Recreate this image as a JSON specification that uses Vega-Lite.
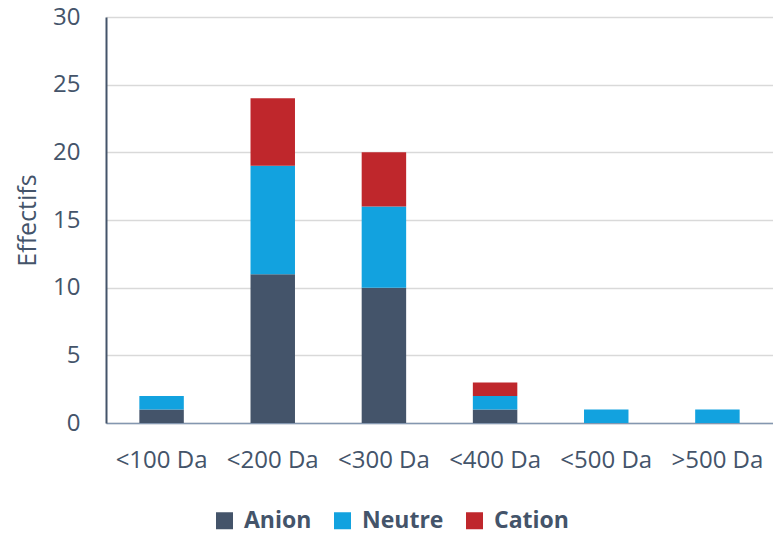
{
  "$schema": "https://vega.github.io/schema/vega-lite/v6.json",
  "width": 667,
  "height": 406,
  "autosize": {"type": "none"},
  "padding": {"left": 106, "top": 17, "right": 0, "bottom": 111},
  "background": "white",
  "data": {
    "values": [
      {"masse": "<100 Da", "charge": "Anion", "rang": 1, "effectif": 1},
      {"masse": "<100 Da", "charge": "Neutre", "rang": 2, "effectif": 1},
      {"masse": "<200 Da", "charge": "Anion", "rang": 1, "effectif": 11},
      {"masse": "<200 Da", "charge": "Neutre", "rang": 2, "effectif": 8},
      {"masse": "<200 Da", "charge": "Cation", "rang": 3, "effectif": 5},
      {"masse": "<300 Da", "charge": "Anion", "rang": 1, "effectif": 10},
      {"masse": "<300 Da", "charge": "Neutre", "rang": 2, "effectif": 6},
      {"masse": "<300 Da", "charge": "Cation", "rang": 3, "effectif": 4},
      {"masse": "<400 Da", "charge": "Anion", "rang": 1, "effectif": 1},
      {"masse": "<400 Da", "charge": "Neutre", "rang": 2, "effectif": 1},
      {"masse": "<400 Da", "charge": "Cation", "rang": 3, "effectif": 1},
      {"masse": "<500 Da", "charge": "Neutre", "rang": 2, "effectif": 1},
      {"masse": ">500 Da", "charge": "Neutre", "rang": 2, "effectif": 1}
    ]
  },
  "mark": {"type": "bar", "stroke": null},
  "encoding": {
    "x": {
      "field": "masse",
      "type": "nominal",
      "sort": ["<100 Da", "<200 Da", "<300 Da", "<400 Da", "<500 Da", ">500 Da"],
      "scale": {"paddingInner": 0.6, "paddingOuter": 0.3},
      "axis": {
        "title": null,
        "labelAngle": 0,
        "ticks": false,
        "labelPadding": 25,
        "domainColor": "#8497B0",
        "domainWidth": 1.5,
        "grid": false
      }
    },
    "y": {
      "field": "effectif",
      "type": "quantitative",
      "stack": "zero",
      "scale": {"domain": [0, 30], "nice": false},
      "axis": {
        "title": "Effectifs",
        "titleFontSize": 25,
        "values": [0, 5, 10, 15, 20, 25, 30],
        "ticks": false,
        "labelPadding": 26,
        "titlePadding": 12,
        "domainColor": "#44546A",
        "domainWidth": 2,
        "gridColor": "#D9D9D9",
        "gridWidth": 1.5
      }
    },
    "color": {
      "field": "charge",
      "type": "nominal",
      "scale": {
        "domain": ["Anion", "Neutre", "Cation"],
        "range": ["#44546A", "#12A2DF", "#BF272C"]
      },
      "legend": {
        "title": null,
        "orient": "none",
        "direction": "horizontal",
        "legendX": 107,
        "legendY": 492,
        "symbolType": "square",
        "symbolSize": 289,
        "symbolStrokeWidth": 0,
        "labelFont": "Open Sans",
        "labelFontSize": 23,
        "labelFontWeight": "bold",
        "labelColor": "#44546A",
        "labelOffset": 8,
        "columnPadding": 19
      }
    },
    "order": {"field": "rang", "type": "quantitative"}
  },
  "config": {
    "view": {"stroke": null},
    "axis": {
      "labelFont": "Open Sans",
      "labelFontSize": 24,
      "labelColor": "#44546A",
      "titleFont": "Open Sans",
      "titleFontWeight": "normal",
      "titleColor": "#44546A"
    }
  }
}
